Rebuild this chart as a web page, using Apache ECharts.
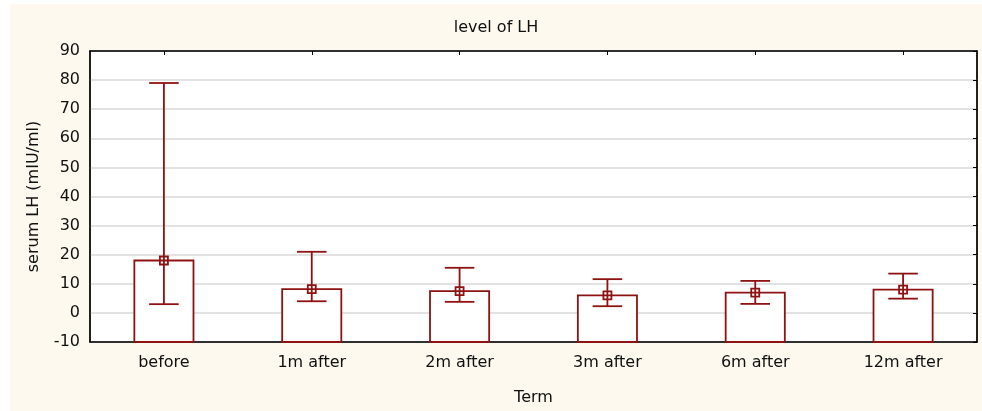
<!DOCTYPE html>
<html>
<head>
<meta charset="utf-8">
<script src="https://cdn.jsdelivr.net/npm/echarts@6/dist/echarts.min.js"></script>
<style>
  html, body { margin: 0; padding: 0; background: #ffffff; width: 982px; height: 411px; overflow: hidden; }
  #chart { position: absolute; left: 10px; top: 4px; width: 972px; height: 407px; }
</style>
</head>
<body>
<div id="chart"></div>
<script>
// ---- data ----
const categories = ["before", "1m after", "2m after", "3m after", "6m after", "12m after"];
const medianValues = [18, 8.2, 7.5, 6, 7, 8];
const upperValues = [79, 21, 15.5, 11.6, 11, 13.5];
const lowerValues = [3, 4, 3.8, 2.3, 3.1, 4.9];
const yTicks = [-10, 0, 10, 20, 30, 40, 50, 60, 70, 80, 90];

const yMin = yTicks[0];
const yMax = yTicks[yTicks.length - 1];
const seriesData = categories.map((c, i) => [i, medianValues[i], upperValues[i], lowerValues[i]]);

const RED = '#8E1212';
const FONT = 'DejaVu Sans';
const TXT = '#111111';

const chart = echarts.init(document.getElementById('chart'), null, { renderer: 'canvas' });

function renderItem(params, api) {
  const idx = api.value(0);
  const med = api.value(1);
  const hi = api.value(2);
  const lo = api.value(3);
  const band = api.size([1, 0])[0];
  const pMed = api.coord([idx, med]);
  const pBase = api.coord([idx, yMin]);
  const pHi = api.coord([idx, hi]);
  const pLo = api.coord([idx, lo]);
  const cx = pMed[0];
  const bw = band * 0.4;
  const cw = band * 0.2;
  const sq = 8;
  const st = { stroke: RED, lineWidth: 1.8, fill: null };
  return {
    type: 'group',
    children: [
      { type: 'rect', shape: { x: cx - bw / 2, y: pMed[1], width: bw, height: pBase[1] - pMed[1] },
        style: { stroke: RED, lineWidth: 1.8, fill: '#ffffff' } },
      { type: 'line', shape: { x1: cx, y1: pHi[1], x2: cx, y2: pLo[1] }, style: st },
      { type: 'line', shape: { x1: cx - cw / 2, y1: pHi[1], x2: cx + cw / 2, y2: pHi[1] }, style: st },
      { type: 'line', shape: { x1: cx - cw / 2, y1: pLo[1], x2: cx + cw / 2, y2: pLo[1] }, style: st },
      { type: 'rect', shape: { x: cx - sq / 2, y: pMed[1] - sq / 2, width: sq, height: sq }, style: st }
    ]
  };
}

const axisLineStyle = { show: true, onZero: false, lineStyle: { color: '#000000', width: 1.5 } };

chart.setOption({
  backgroundColor: '#FDF9EF',
  animation: false,
  title: {
    text: 'level of LH',
    left: 'center',
    top: 16,
    padding: 0,
    textStyle: { fontFamily: FONT, fontSize: 16, fontWeight: 'normal', color: TXT }
  },
  grid: {
    left: 80, right: 5, top: 47, bottom: 69,
    show: true, backgroundColor: '#ffffff', borderColor: '#000000', borderWidth: 1
  },
  xAxis: [
    {
      type: 'category', data: categories, position: 'bottom',
      name: 'Term', nameLocation: 'middle', nameGap: 48,
      nameTextStyle: { fontFamily: FONT, fontSize: 16, color: TXT },
      axisLine: axisLineStyle,
      axisTick: { show: true, inside: true, alignWithLabel: true, length: 4, lineStyle: { color: '#000' } },
      axisLabel: { fontFamily: FONT, fontSize: 16, color: TXT, margin: 13 },
      splitLine: { show: false }
    },
    {
      type: 'category', data: categories, position: 'top',
      axisLine: axisLineStyle,
      axisTick: { show: true, inside: true, alignWithLabel: true, length: 4, lineStyle: { color: '#000' } },
      axisLabel: { show: false },
      splitLine: { show: false }
    }
  ],
  yAxis: [
    {
      type: 'value', min: yMin, max: yMax, interval: 10, position: 'left',
      name: 'serum LH (mIU/ml)', nameLocation: 'middle', nameGap: 48,
      nameTextStyle: { fontFamily: FONT, fontSize: 16, color: TXT },
      axisLine: axisLineStyle,
      axisTick: { show: false },
      axisLabel: { fontFamily: FONT, fontSize: 16, color: TXT, margin: 10 },
      splitLine: { show: true, lineStyle: { color: '#d9d9d9', width: 1.5 } }
    },
    {
      type: 'value', min: yMin, max: yMax, interval: 10, position: 'right',
      axisLine: axisLineStyle,
      axisTick: { show: true, inside: true, length: 4, lineStyle: { color: '#000' } },
      axisLabel: { show: false },
      splitLine: { show: false }
    }
  ],
  series: [
    {
      type: 'custom',
      xAxisIndex: 0,
      yAxisIndex: 0,
      renderItem: renderItem,
      encode: { x: 0, y: [1, 2, 3] },
      data: seriesData,
      clip: false
    }
  ]
});
</script>
</body>
</html>
